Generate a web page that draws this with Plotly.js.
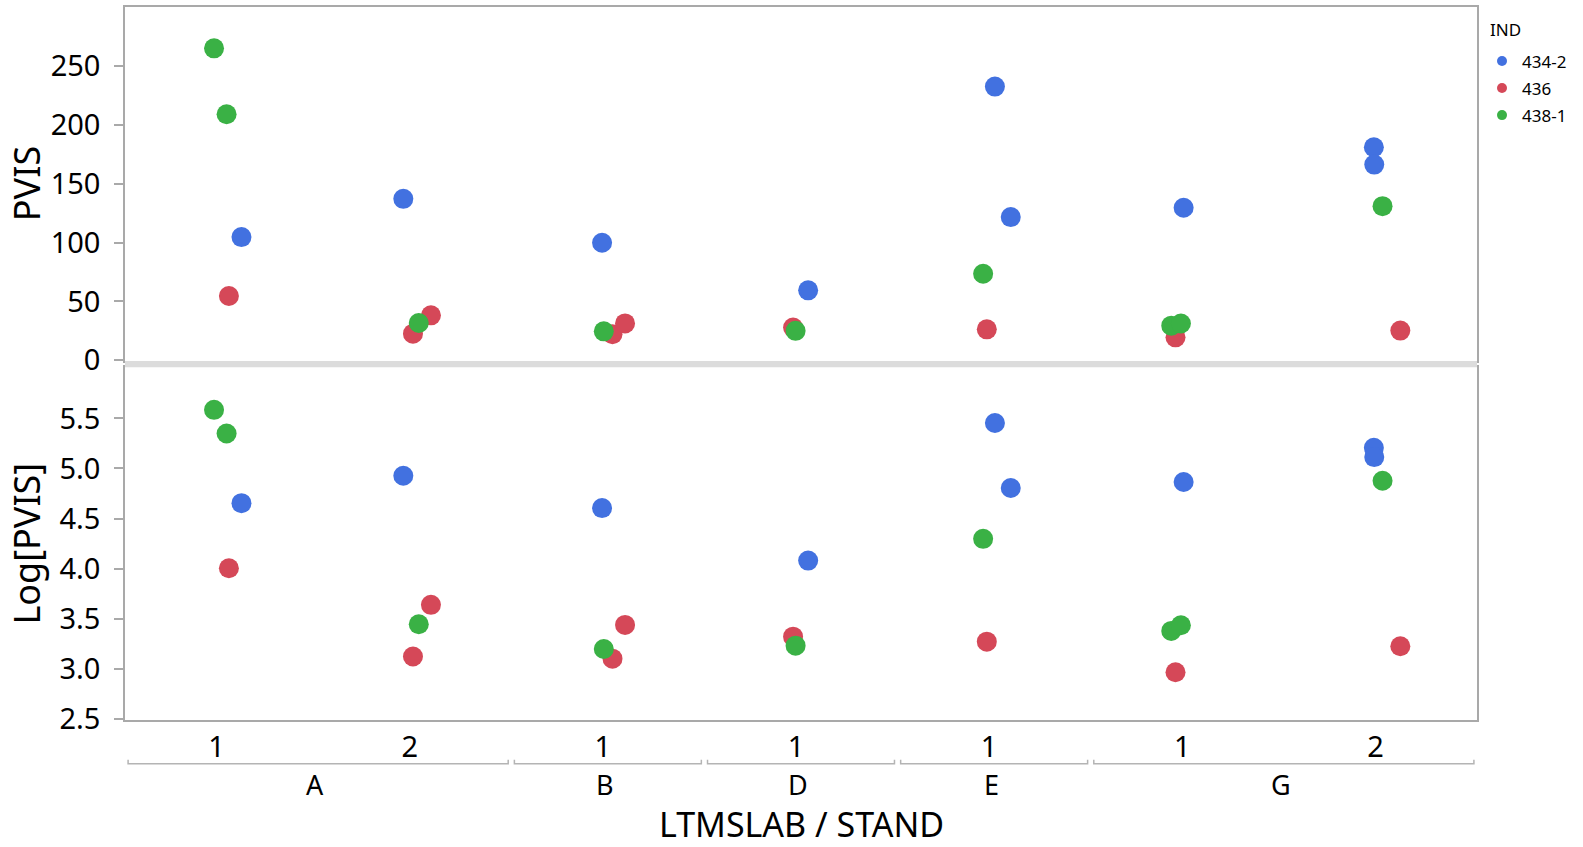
<!DOCTYPE html>
<html>
<head>
<meta charset="utf-8">
<script src="https://cdn.plot.ly/plotly-3.0.1.min.js"></script>
<style>
  html, body { margin: 0; padding: 0; background: #ffffff; }
  #chart { width: 1583px; height: 847px; }
</style>
</head>
<body>
<div id="chart"></div>
<script>
// ---- Data ----
// x categories (LTMSLAB / STAND)
const ltmslab = ["A", "A", "B", "D", "E", "G", "G"];
const stand   = ["1", "2", "1", "1", "1", "1", "2"];

// IND = 434-2
const cat434   = [0, 1, 2, 3, 4, 4, 5, 6, 6];
const jit434   = [0.103, -0.059, -0.030, 0.037, 0.004, 0.086, -0.019, -0.034, -0.032];
const pvis434  = [104.6, 137.1, 99.8, 59.4, 232.4, 121.6, 129.5, 180.9, 166.2];
const log434   = [4.654, 4.927, 4.605, 4.081, 5.454, 4.805, 4.865, 5.207, 5.114];

// IND = 436
const cat436   = [0, 1, 1, 2, 2, 3, 4, 5, 6];
const jit436   = [0.038, 0.084, -0.009, 0.024, 0.089, -0.041, -0.038, -0.061, 0.103];
const pvis436  = [54.6, 38.2, 22.6, 22.2, 31.3, 27.8, 26.3, 19.5, 25.2];
const log436   = [4.004, 3.639, 3.124, 3.102, 3.439, 3.322, 3.272, 2.966, 3.226];

// IND = 438-1
const cat4381  = [0, 0, 1, 2, 3, 4, 5, 5, 6];
const jit4381  = [-0.039, 0.026, 0.021, -0.021, -0.028, -0.057, -0.083, -0.033, 0.011];
const pvis4381 = [264.9, 208.9, 31.7, 24.6, 25.0, 73.5, 29.4, 31.2, 130.9];
const log4381  = [5.585, 5.349, 3.446, 3.199, 3.232, 4.298, 3.379, 3.436, 4.878];

const indNames  = ["434-2", "436", "438-1"];
const indColors = ["#4271E0", "#D54858", "#3AB145"];

const topTicks = [0, 50, 100, 150, 200, 250];
const botTicks = [2.5, 3.0, 3.5, 4.0, 4.5, 5.0, 5.5];

// ---- Build traces ----
const FONT = "Noto Sans, Open Sans, DejaVu Sans, sans-serif";
const series = [
  {cat: cat434,  jit: jit434,  pvis: pvis434,  log: log434},
  {cat: cat436,  jit: jit436,  pvis: pvis436,  log: log436},
  {cat: cat4381, jit: jit4381, pvis: pvis4381, log: log4381}
];
const traces = [];
series.forEach((s, k) => {
  const xs = s.cat.map((c, i) => c + s.jit[i]);
  const mk = {size: 20, color: indColors[k], line: {width: 0}};
  traces.push({type: "scatter", mode: "markers", name: indNames[k], legendgroup: indNames[k],
    x: xs, y: s.pvis, xaxis: "x", yaxis: "y", marker: mk, showlegend: false,
    hovertemplate: "PVIS=%{y}<extra>" + indNames[k] + "</extra>"});
  traces.push({type: "scatter", mode: "markers", name: indNames[k], legendgroup: indNames[k],
    x: xs, y: s.log, xaxis: "x2", yaxis: "y2", marker: mk, showlegend: false,
    hovertemplate: "Log[PVIS]=%{y}<extra>" + indNames[k] + "</extra>"});
});
// legend-only entries (small legend markers as in the reference)
indNames.forEach((n, k) => {
  traces.push({type: "scatter", mode: "markers", name: n, legendgroup: n,
    x: [null], y: [null], xaxis: "x", yaxis: "y",
    marker: {size: 10, color: indColors[k]}, showlegend: true});
});

// ---- Layout ----
const LINE = "#A9A9A9";
const nCat = ltmslab.length;
const topDomain = [0.5035, 1];
const botDomain = [0, 0.4947];

// group brackets and labels below the x axis
const shapes = [];
const annotations = [];
let start = 0;
for (let i = 1; i <= nCat; i++) {
  if (i === nCat || ltmslab[i] !== ltmslab[start]) {
    const x0 = start - 0.5 + 0.016, x1 = (i - 1) + 0.5 - 0.016;
    shapes.push({type: "path", xref: "x2", yref: "paper",
      path: `M ${x0},-0.0557 L ${x0},-0.0613 L ${x1},-0.0613 L ${x1},-0.0557`,
      line: {color: "#B4B4B4", width: 1.5}});
    annotations.push({xref: "x2", yref: "paper", x: (start + i - 1) / 2, y: -0.0905,
      xshift: -3,
      text: ltmslab[start], showarrow: false, xanchor: "center", yanchor: "middle",
      font: {family: FONT, size: 27, color: "#000"}});
    start = i;
  }
}
// gray separator between the two panels
shapes.push({type: "rect", xref: "paper", yref: "paper", x0: 0, x1: 1,
  y0: botDomain[1], y1: topDomain[0], fillcolor: "#DCDCDC", line: {width: 0}, layer: "above"});

// axis titles
annotations.push({xref: "paper", yref: "paper", x: 0.5, y: -0.1459, text: "LTMSLAB / STAND",
  showarrow: false, xanchor: "center", yanchor: "middle", font: {family: FONT, size: 34, color: "#000"}});
annotations.push({xref: "paper", yref: "paper", x: -0.0731, y: (topDomain[0] + topDomain[1]) / 2, text: "PVIS",
  textangle: -90, showarrow: false, xanchor: "center", yanchor: "middle", font: {family: FONT, size: 36, color: "#000"}});
annotations.push({xref: "paper", yref: "paper", x: -0.0725, y: (botDomain[0] + botDomain[1]) / 2, text: "Log[PVIS]",
  textangle: -90, showarrow: false, xanchor: "center", yanchor: "middle", font: {family: FONT, size: 36, color: "#000"}});
// legend title
annotations.push({xref: "paper", yref: "paper", x: 1.0079, y: 0.969, text: "IND",
  showarrow: false, xanchor: "left", yanchor: "middle", font: {family: FONT, size: 17, color: "#000"}});

const xCommon = {
  range: [-0.5, nCat - 0.5], showgrid: false, zeroline: false,
  showline: true, mirror: true, linecolor: LINE, linewidth: 1.5,
  tickvals: stand.map((_, i) => i), ticktext: stand, ticks: "",
  tickfont: {family: FONT, size: 29, color: "#000"}, fixedrange: true
};

const layout = {
  width: 1583, height: 847,
  margin: {l: 125, r: 106, t: 7, b: 127},
  paper_bgcolor: "#ffffff", plot_bgcolor: "#ffffff",
  font: {family: FONT, color: "#000"},
  showlegend: true,
  legend: {x: 1.0037, xanchor: "left", y: 0.949, yanchor: "top",
    font: {family: FONT, size: 17, color: "#000"},
    itemsizing: "trace", tracegroupgap: 2, bgcolor: "rgba(0,0,0,0)"},
  xaxis: Object.assign({}, xCommon, {anchor: "y", showticklabels: false, matches: "x2"}),
  xaxis2: Object.assign({}, xCommon, {anchor: "y2", showticklabels: true, ticklabelstandoff: 0, ticklabelshift: -5}),
  yaxis: {domain: topDomain, anchor: "x", range: [-0.6, 300], showgrid: false, zeroline: false,
    showline: true, mirror: true, linecolor: LINE, linewidth: 1.5,
    ticks: "outside", ticklen: 9, tickwidth: 1.5, tickcolor: LINE,
    tickvals: topTicks, ticktext: topTicks.map(String), ticklabelstandoff: 8,
    tickfont: {family: FONT, size: 29, color: "#000"}, fixedrange: true},
  yaxis2: {domain: botDomain, anchor: "x2", range: [2.49, 6.01], showgrid: false, zeroline: false,
    showline: true, mirror: true, linecolor: LINE, linewidth: 1.5,
    ticks: "outside", ticklen: 9, tickwidth: 1.5, tickcolor: LINE,
    tickvals: botTicks, ticktext: botTicks.map(v => v.toFixed(1)), ticklabelstandoff: 8,
    tickfont: {family: FONT, size: 29, color: "#000"}, fixedrange: true},
  shapes: shapes,
  annotations: annotations
};

Plotly.newPlot("chart", traces, layout, {displayModeBar: false, responsive: false});
</script>
</body>
</html>
